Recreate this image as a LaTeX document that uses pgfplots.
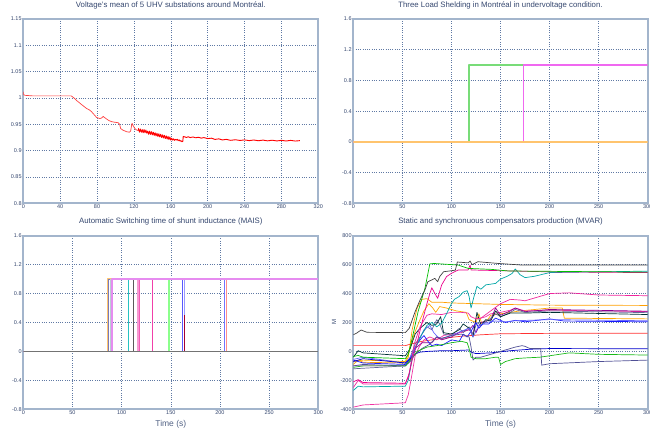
\documentclass[border=0pt]{standalone}
\usepackage{fontspec}
\setmainfont{Liberation Sans}
\usepackage{pgfplots}
\pgfplotsset{compat=1.18}
\definecolor{frame}{HTML}{A3B5CC}
\definecolor{gridc}{HTML}{5F79A4}
\definecolor{txt}{HTML}{34466E}
\definecolor{pgreen}{HTML}{78DC78}
\definecolor{pmag}{HTML}{F068F0}
\definecolor{porange}{HTML}{FFC46E}
\definecolor{onepink}{HTML}{E68CF0}
\pgfplotsset{
  panel/.style={
    scale only axis, anchor=south west,
    axis line style={color=frame, line width=1.9pt},
    grid=major,
    grid style={color=gridc, line width=0.5pt, dash pattern=on 0.6pt off 1.7pt},
    major tick length=0pt,
    tick label style={font=\fontsize{5.5}{6}\selectfont, color=txt},
    xticklabel style={inner sep=1.5pt},
    yticklabel style={inner sep=1.5pt},
    title style={font=\fontsize{7.8}{8.5}\selectfont, color=txt, at={(0.5,1)}, anchor=south, yshift=4pt, inner sep=0pt},
    xlabel style={font=\fontsize{8.5}{9}\selectfont, color=txt!85, at={(0.5,0)}, anchor=north, yshift=-10.5pt, inner sep=0pt},
    /pgf/number format/assume math mode=true,
    every axis plot/.append style={line join=round},
  }
}
\begin{document}
\begin{tikzpicture}
% ---------- top left ----------
\begin{axis}[panel, at={(23.3pt,226.7pt)}, width=295pt, height=184.3pt,
  title={Voltage's mean of 5 UHV substations around Montréal.},
  xmin=0, xmax=320, ymin=0.8, ymax=1.15,
  xtick={0,40,80,120,160,200,240,280,320},
  ytick={0.8,0.85,0.9,0.95,1,1.05,1.1,1.15},
  yticklabels={0.8,0.85,0.9,0.95,1,1.05,1.1,1.15}]
\addplot[color=red!75!white, line width=0.7pt] coordinates {
(0,1.012)(0.5,1.006)(2,1.005)(10,1.004)(30,1.004)(52,1.004)(55,1.0)(58,0.995)(61.5,0.99)(65,0.985)(68.7,0.98)(72,0.977)(74,0.974)(77,0.968)(79.5,0.963)(83,0.961)(85,0.962)(86.8,0.965)(88,0.963)(90.4,0.960)(93,0.957)(95.8,0.955)(99,0.954)(103,0.953)(104.5,0.950)(105.6,0.942)(108,0.939)(112,0.936)(115,0.935)(116.4,0.937)(117.5,0.948)(118,0.952)(119,0.948)(121,0.942)(123,0.939)(124.7,0.938)};
\addplot[color=red, line width=0.9pt] coordinates {
(124.7,0.938)(125,0.9420)(126,0.9350)(127,0.9410)(128,0.9350)(129,0.9400)(130,0.9340)(131,0.9400)(132,0.9340)(133,0.9390)(134,0.9330)(135,0.9370)(136,0.9310)(137,0.9370)(138,0.9310)(139,0.9360)(140,0.9300)(141,0.9350)(142,0.9290)(143,0.9340)(144,0.9280)(145,0.9330)(146,0.9270)(147,0.9320)(148,0.9260)(149,0.9310)(150,0.9250)(151,0.9300)(152,0.9240)(153,0.9290)(154,0.9230)(155,0.9280)(156,0.9220)(157,0.9270)(158,0.9210)(159,0.9260)(160,0.9200)(161,0.9235)(162,0.9200)(163,0.9225)(164,0.9195)(165,0.9215)(166,0.9200)(167,0.9215)(168,0.919)(169,0.9205)(170,0.918)(171,0.919)(172,0.917)(173,0.9175)(173.5,0.927)(175,0.9262)(177,0.9250)(179,0.9264)(181,0.9248)(184,0.9260)(187,0.9244)(190,0.9254)(193,0.9238)(196,0.9248)(200,0.9228)(204,0.9237)(208,0.9213)(212,0.9224)(216,0.9203)(220,0.9214)(225,0.9196)(230,0.9207)(235,0.9193)(240,0.9204)(245,0.9190)(250,0.9202)(255,0.9188)(260,0.9200)(265,0.9186)(270,0.9198)(275,0.9184)(280,0.9196)(285,0.9183)(290,0.9195)(295,0.9182)(300,0.9190)};
\end{axis}
% ---------- top right ----------
\begin{axis}[panel, at={(353.3pt,226.7pt)}, width=294.4pt, height=184.3pt,
  title={Three Load Shelding in Montréal in undervoltage condition.},
  xmin=0, xmax=300, ymin=-0.8, ymax=1.6,
  xtick={0,50,100,150,200,250,300},
  ytick={-0.8,-0.4,0,0.4,0.8,1.2,1.6},
  yticklabels={-0.8,-0.4,0,0.4,0.8,1.2,1.6}]
\addplot[color=pgreen, line width=1.4pt] coordinates {(0,0)(117.9,0)(117.9,1)(300,1)};
\addplot[color=pmag, line width=1.6pt] coordinates {(0,0)(173.6,0)(173.6,1)(300,1)};
\addplot[color=pmag, line width=1.6pt] coordinates {(173.4,0)(173.4,1)};
\addplot[color=porange, line width=1.5pt] coordinates {(0,0)(300,0)};
\end{axis}
% ---------- bottom left ----------
\begin{axis}[panel, at={(23.3pt,20.7pt)}, width=295pt, height=173.6pt,
  title={Automatic Switching time of shunt inductance (MAIS)},
  xlabel={Time (s)},
  xmin=0, xmax=300, ymin=-0.8, ymax=1.6,
  xtick={0,50,100,150,200,250,300},
  ytick={-0.8,-0.4,0,0.4,0.8,1.2,1.6},
  yticklabels={-0.8,-0.4,0,0.4,0.8,1.2,1.6}]
\addplot[color=porange, line width=1.2pt] coordinates {(0,0)(85.4,0)(85.4,1)(300,1)};
\addplot[color=gray!70!blue!80!white, line width=1pt] coordinates {(0,0)(87,0)(87,1)(300,1)};
\addplot[color=cyan!25!gray!50!white, line width=1pt] coordinates {(0,0)(88.5,0)(88.5,1)(300,1)};
\addplot[color=teal!55!cyan!85!white, line width=1pt] coordinates {(0,0)(106.8,0)(106.8,1)(300,1)};
\addplot[color=black!65, line width=1pt] coordinates {(0,0)(111.9,0)(111.9,1)(300,1)};
\addplot[color=magenta!40!white, line width=1.5pt] coordinates {(0,0)(116.8,0)(116.8,1)(300,1)};
\addplot[color=magenta!65!white, line width=1pt] coordinates {(0,0)(118.6,0)(118.6,1)(300,1)};
\addplot[color=magenta!75!white, line width=1pt] coordinates {(0,0)(131.2,0)(131.2,1)(300,1)};
\addplot[color=green!45!white, line width=1.5pt] coordinates {(0,0)(148,0)(148,1)(300,1)};
\addplot[color=blue!65!white, line width=1pt] coordinates {(0,0)(161.7,0)(161.7,1)(300,1)};
\addplot[color=blue!40!white, line width=1pt] coordinates {(0,0)(163.7,0)(163.7,1)(300,1)};
\addplot[color=purple!85!black, line width=1pt] coordinates {(163.7,0)(163.7,0.5)};
\addplot[color=blue!55!white, line width=1pt] coordinates {(0,0)(204.4,0)(204.4,1)(300,1)};
\addplot[color=red!45!white, line width=1.3pt] coordinates {(0,0)(206.8,0)(206.8,1)(300,1)};
\addplot[color=onepink, line width=1.6pt] coordinates {(0,0)(90.5,0)(90.5,1)(300,1)};
\addplot[color=black!55, line width=1.3pt] coordinates {(0,0)(300,0)};
\end{axis}
% ---------- bottom right ----------
\begin{axis}[panel, at={(353.3pt,20.7pt)}, width=294.4pt, height=173.6pt,
  title={Static and synchronuous compensators production (MVAR)},
  xlabel={Time (s)}, ylabel={M},
  ylabel style={font=\fontsize{6}{7}\selectfont, color=txt, at={(axis description cs:-0.065,0.5)}, anchor=center, inner sep=0pt},
  xmin=0, xmax=300, ymin=-400, ymax=800,
  xtick={0,50,100,150,200,250,300},
  ytick={-400,-200,0,200,400,600,800},
  every axis plot/.append style={line width=0.7pt}]
% red
\addplot[color=red!80] coordinates {(0,40)(53,40)(58,50)(70,70)(90,90)(110,105)(130,115)(150,122)(200,125)(300,125)};
% orange
\addplot[color=orange!75!yellow] coordinates {(0,-90)(5,-60)(10,-75)(53,-80)(56,-40)(60,150)(65,300)(70,360)(75,365)(80,340)(90,340)(100,335)(150,325)(200,320)(300,318)};
% orange2
\addplot[color=orange!70!yellow] coordinates {(0,-70)(10,-60)(53,-70)(57,0)(62,120)(68,220)(72,280)(77,330)(81,300)(84,270)(88,310)(95,300)(105,280)(115,270)(118,220)(125,200)(128,260)(131,190)(135,200)(140,250)(150,260)(170,280)(200,300)(213,300)(215,230)(300,225)};
% magenta bottom
\addplot[color=magenta!80] coordinates {(0,-385)(10,-370)(53,-355)(56,-300)(60,-150)(63,-30)(67,30)(72,80)(78,100)(85,80)(92,110)(100,120)(110,130)(118,150)(122,120)(125,230)(130,230)(135,240)(140,260)(150,270)(160,285)(165,300)(175,280)(200,285)(300,275)};
% purple
\addplot[color=violet!60!magenta!80!black] coordinates {(0,-100)(53,-100)(58,-60)(63,20)(70,60)(80,60)(85,100)(90,80)(100,100)(110,140)(118,150)(122,180)(125,130)(130,200)(140,220)(145,300)(150,250)(160,280)(165,300)(175,275)(200,290)(300,278)};
% slate
\addplot[color=gray!80!blue] coordinates {(0,-120)(53,-100)(58,-40)(63,50)(70,120)(75,170)(80,150)(85,220)(88,190)(92,120)(100,110)(108,160)(112,130)(118,170)(122,120)(126,200)(130,180)(140,230)(145,260)(150,240)(160,270)(165,290)(175,270)(200,280)(300,268)};
% dark slate
\addplot[color=black!60!teal] coordinates {(0,-40)(5,5)(10,-10)(53,-30)(58,20)(63,120)(68,160)(75,200)(80,180)(85,190)(89,240)(92,130)(100,120)(108,150)(112,190)(118,160)(122,100)(126,270)(130,180)(135,220)(140,210)(145,280)(150,240)(160,265)(175,265)(200,270)(300,255)};
% blue
\addplot[color=blue!90] coordinates {(0,-60)(10,-80)(53,-90)(58,-50)(63,30)(68,80)(72,110)(76,70)(80,40)(85,50)(90,40)(100,80)(108,70)(112,120)(116,100)(120,140)(125,200)(128,160)(132,190)(138,190)(145,230)(155,200)(165,215)(175,205)(200,225)(215,210)(300,205)};
% blue light
\addplot[color=blue!60!white] coordinates {(0,-55)(10,-40)(53,-80)(58,-40)(65,50)(72,150)(78,180)(82,130)(86,100)(90,90)(100,110)(110,140)(118,160)(122,100)(128,180)(135,200)(145,210)(155,205)(165,212)(200,220)(300,212)};
% blue2
\addplot[color=blue!80!black] coordinates {(0,-70)(10,-50)(53,-80)(58,-50)(62,-20)(68,-5)(75,0)(90,5)(100,5)(118,10)(120,-5)(125,-15)(140,-10)(160,5)(180,15)(200,20)(300,18)};
% gray2
\addplot[color=gray!70!blue!90!black] coordinates {(0,-100)(10,-90)(53,-100)(58,-70)(63,-20)(70,20)(78,50)(85,100)(90,90)(100,110)(110,120)(118,100)(120,30)(122,-60)(125,-40)(130,-40)(140,-20)(150,0)(160,20)(165,30)(172,40)(175,35)(180,20)(191,20)(192,-95)(200,-85)(250,-70)(300,-60)};
% green2
\addplot[color=green!70!black!90] coordinates {(0,-110)(10,-100)(53,-100)(58,-60)(65,0)(75,30)(85,40)(100,60)(110,70)(116,60)(118,20)(120,-40)(125,-50)(135,-50)(145,-40)(148,-40)(150,-90)(155,-70)(165,-50)(175,-45)(190,-40)(220,-10)(250,-20)(300,-25)};
% magenta2
\addplot[color=magenta!85] coordinates {(0,-250)(5,-200)(10,-225)(53,-225)(57,-150)(62,50)(68,170)(75,250)(80,260)(90,255)(100,270)(110,270)(117,265)(120,240)(125,225)(130,230)(140,280)(150,330)(160,360)(170,355)(175,350)(185,370)(200,400)(220,405)(250,390)(300,385)};
% teal
\addplot[color=teal!70!cyan] coordinates {(0,-270)(5,-240)(10,-245)(53,-240)(56,-200)(60,-50)(65,50)(70,120)(75,180)(80,200)(85,170)(90,195)(95,260)(100,330)(103,360)(108,380)(112,410)(116,420)(118,380)(120,300)(123,380)(126,450)(130,430)(135,460)(145,470)(150,500)(157,520)(162,540)(165,570)(170,530)(175,510)(185,520)(200,545)(300,555)};
% magenta top
\addplot[color=magenta] coordinates {(0,-210)(5,-195)(10,-215)(53,-220)(56,-180)(60,-60)(65,60)(70,200)(75,330)(78,400)(80,440)(83,402)(86,367)(90,459)(95,517)(100,540)(107,563)(117,563)(119,597)(120,563)(200,550)(300,545)};
% green
\addplot[color=green!75!black] coordinates {(0,-35)(5,-28)(10,-40)(53,-50)(56,-20)(60,90)(66,275)(73,436)(78,605)(82,608)(107,597)(117,574)(141,567)(158,556)(300,548)};
% black
\addplot[color=black!75] coordinates {(0,115)(3,125)(8,148)(14,132)(53,130)(57,160)(63,275)(68,355)(73,425)(76,482)(80,494)(83,505)(86,482)(88,517)(92,551)(98,556)(104,562)(106,618)(112,615)(117,612)(119,625)(121,600)(127,620)(148,608)(172,597)(300,597)};
\end{axis}
\pgfresetboundingbox
\path[use as bounding box] (0pt,0pt) rectangle (650pt,430pt);
\end{tikzpicture}
\end{document}
